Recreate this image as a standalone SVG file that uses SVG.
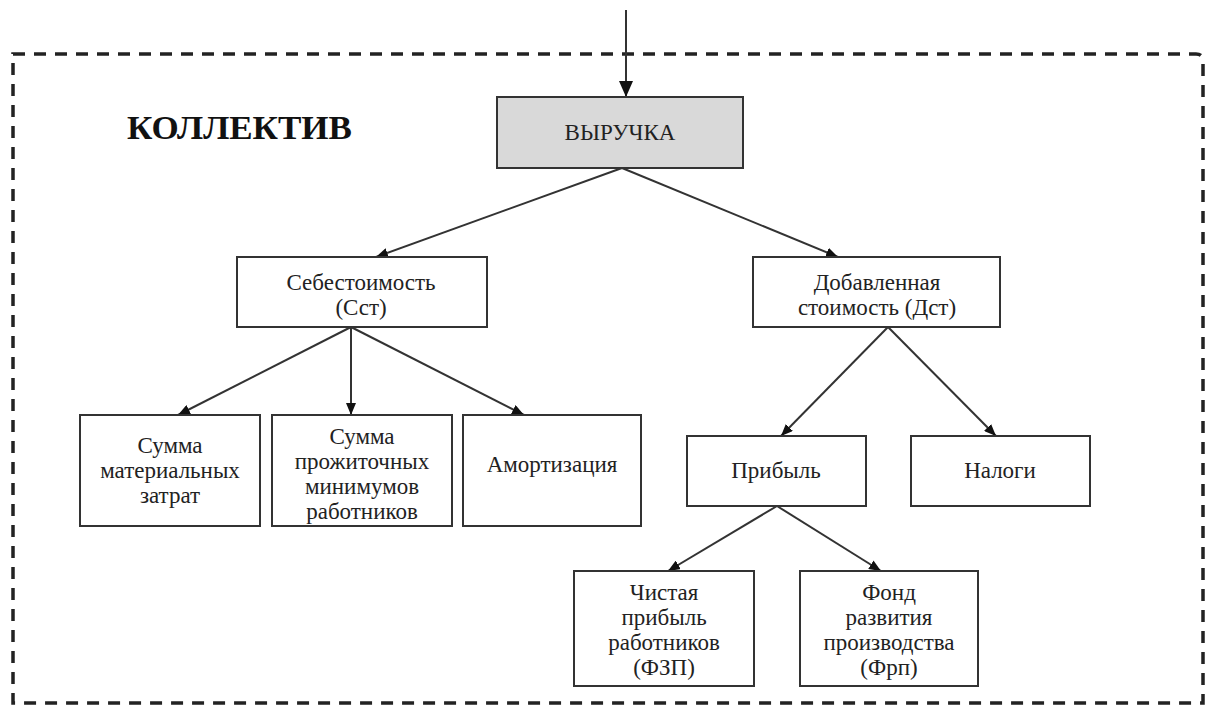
<svg xmlns="http://www.w3.org/2000/svg" width="1207" height="708" viewBox="0 0 1207 708">
<style>
.box{fill:#ffffff;stroke:#333333;stroke-width:2}
.grey{fill:#d9d9d9}
.t{font-family:"Liberation Serif","Times New Roman",serif;font-size:23px;fill:#222222;text-anchor:middle}
.title{font-family:"Liberation Serif","Times New Roman",serif;font-size:34px;font-weight:bold;fill:#111111}
.conn{stroke:#333333;stroke-width:2;fill:none}
.border{fill:none;stroke:#222222;stroke-width:3.5;stroke-dasharray:12 9}
</style>
<defs>
<marker id="ah" viewBox="0 0 12 10" refX="12" refY="5" markerWidth="12" markerHeight="10" markerUnits="userSpaceOnUse" orient="auto">
<path d="M0,0 L12,5 L0,10 Z" fill="#111111"/>
</marker>
<marker id="ahBig" viewBox="0 0 16 14" refX="16" refY="7" markerWidth="16" markerHeight="14" markerUnits="userSpaceOnUse" orient="auto">
<path d="M0,0 L16,7 L0,14 Z" fill="#111111"/>
</marker>
</defs>
<rect width="1207" height="708" fill="#ffffff"/>
<g id="collective-border">
<path class="border" d="M13,54 L1196,54 Q1203,54 1203,61 L1203,703 L13,703 Z"/>
<text class="title" x="127" y="139" textLength="225" lengthAdjust="spacingAndGlyphs">КОЛЛЕКТИВ</text>
</g>
<g id="connectors">
<line class="conn" x1="626" y1="10" x2="626" y2="97" stroke-width="3" marker-end="url(#ahBig)"/>
<line class="conn" x1="622" y1="168" x2="376" y2="257" marker-end="url(#ah)"/>
<line class="conn" x1="622" y1="168" x2="838" y2="257" marker-end="url(#ah)"/>
<line class="conn" x1="351" y1="327" x2="178" y2="415" marker-end="url(#ah)"/>
<line class="conn" x1="351" y1="327" x2="351" y2="415" marker-end="url(#ah)"/>
<line class="conn" x1="351" y1="327" x2="524" y2="415" marker-end="url(#ah)"/>
<line class="conn" x1="888" y1="327" x2="781" y2="436" marker-end="url(#ah)"/>
<line class="conn" x1="888" y1="327" x2="996" y2="436" marker-end="url(#ah)"/>
<line class="conn" x1="777" y1="506" x2="668" y2="571" marker-end="url(#ah)"/>
<line class="conn" x1="777" y1="506" x2="881" y2="571" marker-end="url(#ah)"/>
</g>
<g id="revenue">
<rect class="box grey" x="497" y="97" width="246" height="71"/>
<text class="t" x="620" y="140">ВЫРУЧКА</text>
</g>
<g id="cost">
<rect class="box" x="237" y="257" width="250" height="70"/>
<text class="t" x="361" y="290">Себестоимость</text>
<text class="t" x="361" y="315">(Сст)</text>
</g>
<g id="added-value">
<rect class="box" x="753" y="257" width="247" height="70"/>
<text class="t" x="877" y="290">Добавленная</text>
<text class="t" x="877" y="315">стоимость (Дст)</text>
</g>
<g id="material">
<rect class="box" x="80" y="415" width="180" height="111"/>
<text class="t" x="170" y="453">Сумма</text>
<text class="t" x="170" y="478">материальных</text>
<text class="t" x="170" y="503">затрат</text>
</g>
<g id="subsistence">
<rect class="box" x="272" y="415" width="180" height="111"/>
<text class="t" x="362" y="444">Сумма</text>
<text class="t" x="362" y="469">прожиточных</text>
<text class="t" x="362" y="494">минимумов</text>
<text class="t" x="362" y="519">работников</text>
</g>
<g id="depreciation">
<rect class="box" x="463" y="415" width="178" height="111"/>
<text class="t" x="552" y="472">Амортизация</text>
</g>
<g id="profit">
<rect class="box" x="687" y="436" width="179" height="70"/>
<text class="t" x="776" y="478">Прибыль</text>
</g>
<g id="taxes">
<rect class="box" x="911" y="436" width="179" height="70"/>
<text class="t" x="1000" y="478">Налоги</text>
</g>
<g id="net-profit">
<rect class="box" x="574" y="571" width="180" height="115"/>
<text class="t" x="664" y="600">Чистая</text>
<text class="t" x="664" y="625">прибыль</text>
<text class="t" x="664" y="650">работников</text>
<text class="t" x="664" y="675">(ФЗП)</text>
</g>
<g id="dev-fund">
<rect class="box" x="800" y="571" width="178" height="115"/>
<text class="t" x="889" y="600">Фонд</text>
<text class="t" x="889" y="625">развития</text>
<text class="t" x="889" y="650">производства</text>
<text class="t" x="889" y="675">(Фрп)</text>
</g>
</svg>
